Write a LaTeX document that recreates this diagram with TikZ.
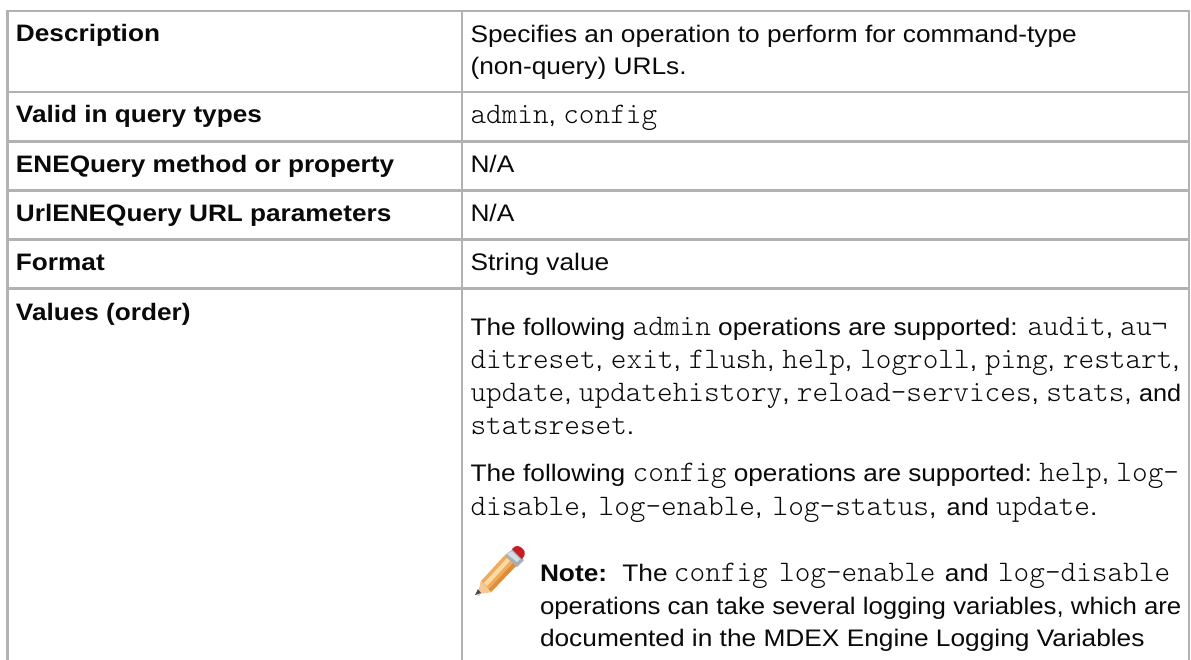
\documentclass[tikz,border=0pt]{standalone}
\usepackage{fontspec}
\setmainfont[FakeStretch=1.1]{Liberation Sans}
\setmonofont{Latin Modern Mono Light}
\newcommand{\cw}[1]{{\fontsize{29.8}{29.8}\selectfont\ttfamily #1}}
\newcommand{\sx}[2]{\scalebox{#1}[1]{#2}}
\definecolor{gridc}{RGB}{178,178,178}
\definecolor{inkc}{RGB}{10,10,10}
\definecolor{pbody}{RGB}{240,170,90}
\definecolor{plight}{RGB}{250,218,165}
\definecolor{pdark}{RGB}{225,140,55}
\definecolor{pwood}{RGB}{245,200,150}
\definecolor{pferr}{RGB}{165,175,185}
\definecolor{pferl}{RGB}{215,220,225}
\definecolor{prub}{RGB}{200,30,35}
\tikzset{
 gridline/.style={draw=gridc,line width=2.4pt,line cap=rect},
 head/.style={anchor=base west,inner sep=0pt,outer sep=0pt,text=inkc,font=\fontsize{23.8}{23.8}\selectfont\bfseries},
 body/.style={anchor=base west,inner sep=0pt,outer sep=0pt,text=inkc,font=\fontsize{23.9}{23.9}\selectfont}
}
\begin{document}
\begin{tikzpicture}[x=1pt,y=-1pt]
\useasboundingbox (0,0) rectangle (1191,659);
\fill[white] (0,0) rectangle (1191,659);
\coordinate (tl) at (7.6,11); \coordinate (tr) at (1189,11);
\coordinate (bl) at (7.6,659); \coordinate (br) at (1189,659);
\coordinate (ct) at (461.7,11); \coordinate (cb) at (461.7,659);
\draw[gridline] (bl) -- (tl) -- (tr) -- (br);
\draw[gridline] (ct) -- (cb);
\foreach \y in {92,141.5,190.5,239.5,288.5}{\draw[gridline] (7.6,\y) -- (1189,\y);}
\node[head] (h1) at (16,41.5) {Description};
\node[head] (h2) at (16,122.7) {Valid in query types};
\node[head] (h3) at (16,172.7) {ENEQuery method or property};
\node[head] (h4) at (16,221.7) {UrlENEQuery URL parameters};
\node[head] (h5) at (16,270.7) {Format};
\node[head] (h6) at (16,320) {Values (order)};
\node[body] (b1) at (470.5,42) {Specifies an operation to perform for command-type};
\node[body] (b1b) at (470.5,74) {(non-query) URLs.};
\node[body] (b2) at (470.5,123) {\cw{admin}, \cw{config}};
\node[body] (b3) at (470.5,172.7) {N/A};
\node[body] (b4) at (470.5,221.7) {N/A};
\node[body] (b5) at (470.5,270.7) {String value};
\node[body] (l1) at (470.5,335.7) {The following \cw{admin} operations are supported: \cw{audit}, \cw{au¬}};
\node[body] (l2) at (470.5,368) {\spaceskip=8pt\relax\cw{ditreset}, \cw{exit}, \cw{flush}, \cw{help}, \cw{logroll}, \cw{ping}, \cw{restart},};
\node[body] (l3) at (470.5,401.7) {\cw{update}, \cw{updatehistory}, \cw{reload-services}, \cw{stats}, \sx{.96}{and}};
\node[body] (l4) at (470.5,434) {\cw{statsreset}.};
\node[body] (l5) at (470.5,481.7) {The following \cw{config} \sx{.995}{operations are supported:} \cw{help}, \cw{log-}};
\node[body] (l6) at (470.5,515) {\cw{disable},\hspace{11.3pt}\cw{log-enable},\hspace{10.3pt}\cw{log-status},\hspace{10.3pt}\sx{.96}{and} \cw{update}.};
\node[body] (n1) at (540,581.7) {\textbf{Note:}\hspace{15.2pt}The\hspace{6.3pt}\cw{config}\hspace{11.3pt}\cw{log-enable}\hspace{9.3pt}and\hspace{9.3pt}\cw{log-disable}};
\node[body] (n2) at (540,614) {\sx{.982}{operations can take several logging variables, which are}};
\node[body] (n3) at (540,646) {documented in the MDEX Engine Logging Variables};
% pencil
\fill[gray!60,opacity=.5] (475,595) -- (479,589) -- (480,596) -- cycle;
\fill[pbody] (481,581) -- (505,555) -- (517,565) -- (491,592) -- (478,594) -- cycle;
\fill[plight] (484,583) -- (507,558) -- (510,561) -- (487,586) -- cycle;
\fill[pdark] (488,590) -- (514,562) -- (517,565) -- (491,592) -- cycle;
\fill[pwood] (481,581) -- (491,592) -- (478,594) -- cycle;
\fill[black!70] (475,595) -- (478,589) -- (481,593) -- cycle;
\fill[pferr] (505,555) -- (513,549) -- (524,560) -- (517,567) -- cycle;
\fill[pferl] (507,554) -- (512,551) -- (520,559) -- (517,562) -- cycle;
\fill[prub] (512,549) .. controls (516,544) and (520,546) .. (523,549) .. controls (526,552) and (525,556) .. (522,559) -- cycle;
\end{tikzpicture}
\end{document}
